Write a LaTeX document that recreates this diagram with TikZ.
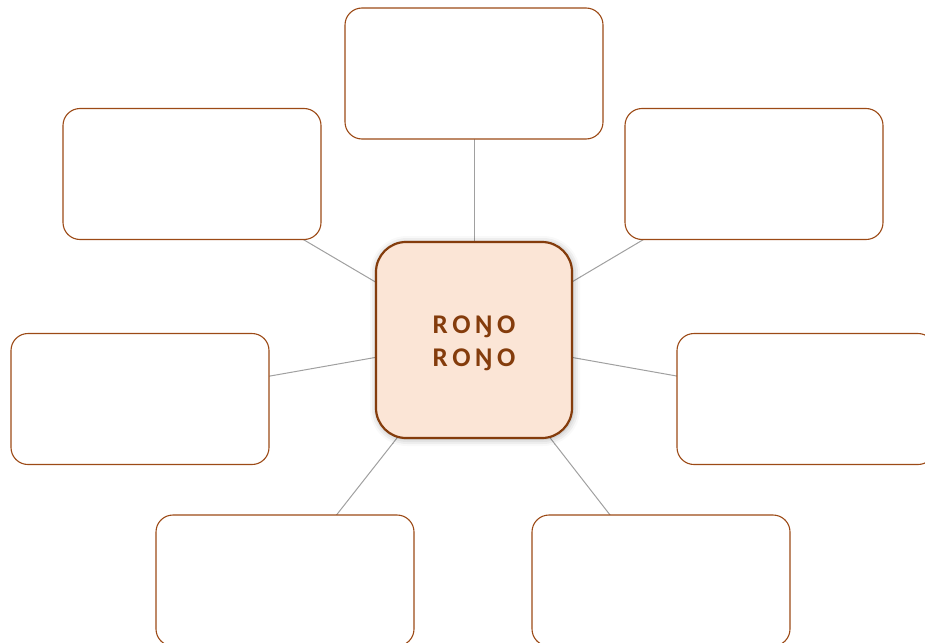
\documentclass[tikz,border=0pt]{standalone}
\usepackage{fontspec}
\setmainfont{Carlito}
\usetikzlibrary{backgrounds, shadows.blur}

\definecolor{rust}{HTML}{843C0C}
\definecolor{rim}{HTML}{9C4A16}
\definecolor{peach}{HTML}{FBE5D6}
\definecolor{spoke}{HTML}{A0A0A0}

\tikzset{
  leaf/.style={draw=rim, line width=1.1pt, fill=white, rounded corners=17pt,
    minimum width=258pt, minimum height=131pt, inner sep=0pt},
  hub/.style={draw=rust, line width=2.2pt, fill=peach, rounded corners=30pt,
    minimum width=196pt, minimum height=196pt, inner sep=0pt,
    blur shadow={shadow xshift=1pt, shadow yshift=-1pt, shadow blur radius=7pt,
      shadow opacity=35}},
  hubtext/.style={align=center, text=rust, inner sep=0pt,
    font=\fontsize{27}{33}\selectfont\bfseries},
  spokeline/.style={draw=spoke, line width=1pt}
}

\begin{document}
\begin{tikzpicture}[x=1pt, y=-1pt]
\useasboundingbox (0,0) rectangle (925,642);

% centre
\node[hub, label={[hubtext, yshift=-3pt]center:R\,O\,Ŋ\,O\\R\,O\,Ŋ\,O}] (mid) at (474,340) {};

% outer boxes
\node[leaf] (top) at (474,73.5) {};
\node[leaf] (upleft) at (192,174) {};
\node[leaf] (upright) at (754,174) {};
\node[leaf] (left) at (140,399) {};
\node[leaf] (right) at (806,399) {};
\node[leaf] (downleft) at (285,580.5) {};
\node[leaf] (downright) at (661,580.5) {};

% spokes
\begin{scope}[on background layer]
\foreach \n in {top, upleft, upright, left, right, downleft, downright}
  \draw[spokeline] (mid.center) -- (\n.center);
\end{scope}
\end{tikzpicture}
\end{document}
